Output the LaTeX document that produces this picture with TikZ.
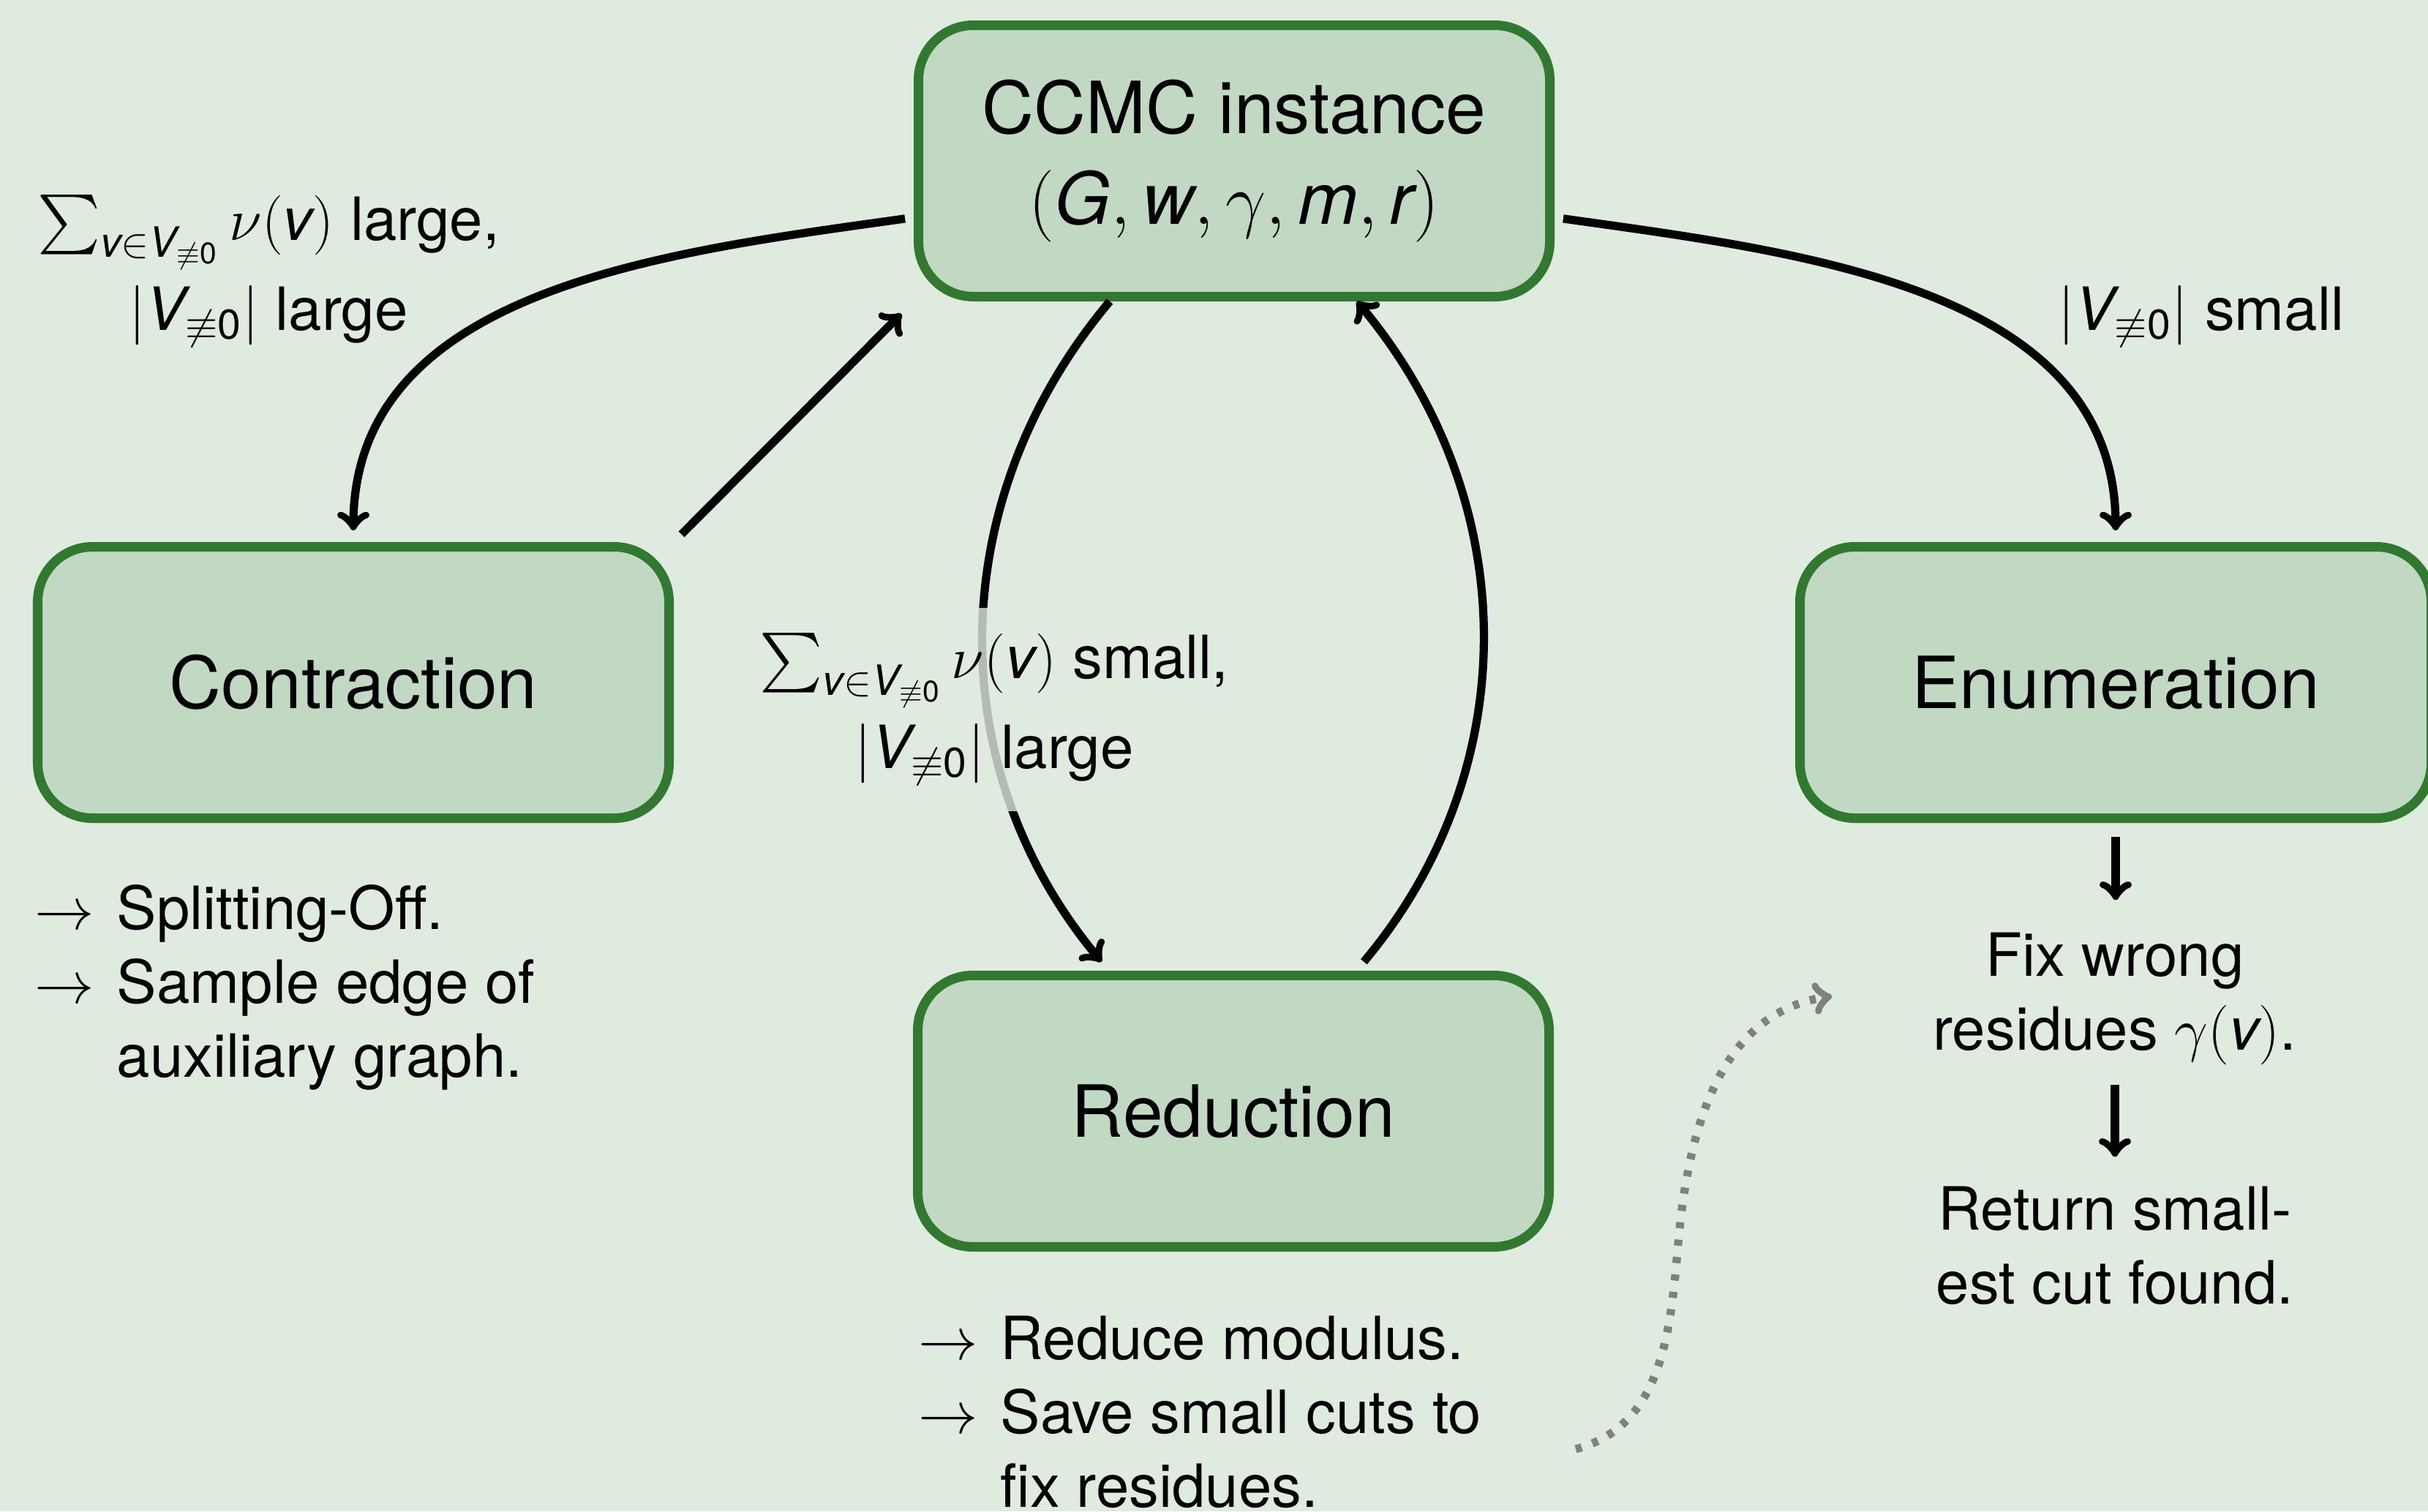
\RequirePackage{fix-cm}
\documentclass[tikz,border=0pt]{standalone}
\usepackage{amssymb,amsmath}
\usepackage{fontspec}
\setmainfont{TeX Gyre Heros}
\usetikzlibrary{arrows,positioning}

\definecolor{bgcol}{RGB}{224,235,224}
\definecolor{stagefill}{RGB}{193,216,194}
\definecolor{stageline}{RGB}{49,121,49}

\newcommand{\iv}[1]{\text{\itshape #1}}
\newcommand{\Vnz}{\iv{V}_{\not\equiv\text{0}}}
\newcommand{\arrowitem}{\makebox[1.12cm][l]{$\rightarrow$}}
\newcommand{\noarrowitem}{\hspace*{1.12cm}}

\tikzset{
  stage/.style={draw=stageline, fill=stagefill, line width=3.7pt, rounded corners=0.75cm,
    minimum width=8.63cm, minimum height=3.71cm, align=center,
    font=\fontsize{28}{35}\selectfont},
  flow/.style={->, line width=3.2pt},
  hint/.style={->, gray, line width=3.2pt, dash pattern=on 2.4pt off 4.4pt},
  cond/.style={align=center, anchor=base, font=\fontsize{23.2}{35}\selectfont},
  note/.style={align=left, anchor=base west, inner sep=0pt, font=\fontsize{23.2}{28.6}\selectfont},
  result/.style={align=center, anchor=base, inner sep=0pt, font=\fontsize{23.2}{28.6}\selectfont},
}

\begin{document}
\begin{tikzpicture}
\useasboundingbox (0,0) rectangle (33.19,-20.66);
\fill[bgcol] (0,0) rectangle (33.19,-20.66);

% the four stages
\node[stage] (ccmc) at (16.87,-2.20) {CCMC instance\\ $(\iv{G},\iv{w},\gamma,\iv{m},\iv{r})$};
\node[stage] (contraction) at (4.83,-9.33) {Contraction};
\node[stage] (enumeration) at (28.92,-9.33) {Enumeration};
\node[stage] (reduction) at (16.86,-15.19) {Reduction};

% conditions (base = last line)
\node[cond] (condContract) at (3.67,-4.51) {$\sum_{\iv{v}\in\Vnz}\nu(\iv{v})$ large,\\ $|\Vnz|$ large};
\node[cond] (condEnum) at (30.09,-4.51) {$|\Vnz|$ small};

% what each stage does
\node[note] (contractNote) at (0.47,-14.72) {\arrowitem Splitting-Off.\\ \arrowitem Sample edge of\\ \noarrowitem auxiliary graph.};
\node[note] (reduceNote) at (12.55,-20.60) {\arrowitem Reduce modulus.\\ \arrowitem Save small cuts to\\ \noarrowitem fix residues.};
\node[result] (fix) at (28.91,-14.35) {Fix wrong\\ residues $\gamma(\iv{v})$.};
\node[result] (ret) at (28.91,-17.82) {Return small-\\ est cut found.};

\draw[flow, shorten <=0.12cm, shorten >=0.16cm] (ccmc.190) to[out=188, in=90] (contraction.north);
\draw[flow, shorten <=0.15cm, shorten >=0.24cm] (contraction.north east) -- (ccmc.south west);
\draw[flow, shorten >=0.16cm] ([xshift=-1.7cm]ccmc.south) to[bend right=40] ([xshift=-1.7cm]reduction.north);
\draw[flow, shorten <=0.16cm] ([xshift=1.68cm]reduction.north) to[bend right=40] ([xshift=1.68cm]ccmc.south);
\draw[flow, shorten <=0.12cm, shorten >=0.16cm] (ccmc.-10) to[out=-8, in=90] (enumeration.north);
\draw[flow, shorten <=0.19cm, shorten >=0.44cm] (enumeration.south) -- (enumeration.south |- fix.north);
\draw[flow, shorten <=0.27cm, shorten >=0.40cm] (fix.south) -- (ret.north);

% saved cuts feed the fixing step
\coordinate (savedCuts) at (21.54,-19.81);
\coordinate (turn) at (22.94,-17.00);
\coordinate (fixIn) at (25.04,-13.62);
\draw[hint] (savedCuts) to[out=15, in=265] (turn) to[out=85, in=188] (fixIn);

\node[cond, fill=bgcol, fill opacity=0.8, text opacity=1, inner sep=0.35cm] (condReduce) at (13.59,-10.50) {$\sum_{\iv{v}\in\Vnz}\nu(\iv{v})$ small,\\ $|\Vnz|$ large};
\end{tikzpicture}
\end{document}
